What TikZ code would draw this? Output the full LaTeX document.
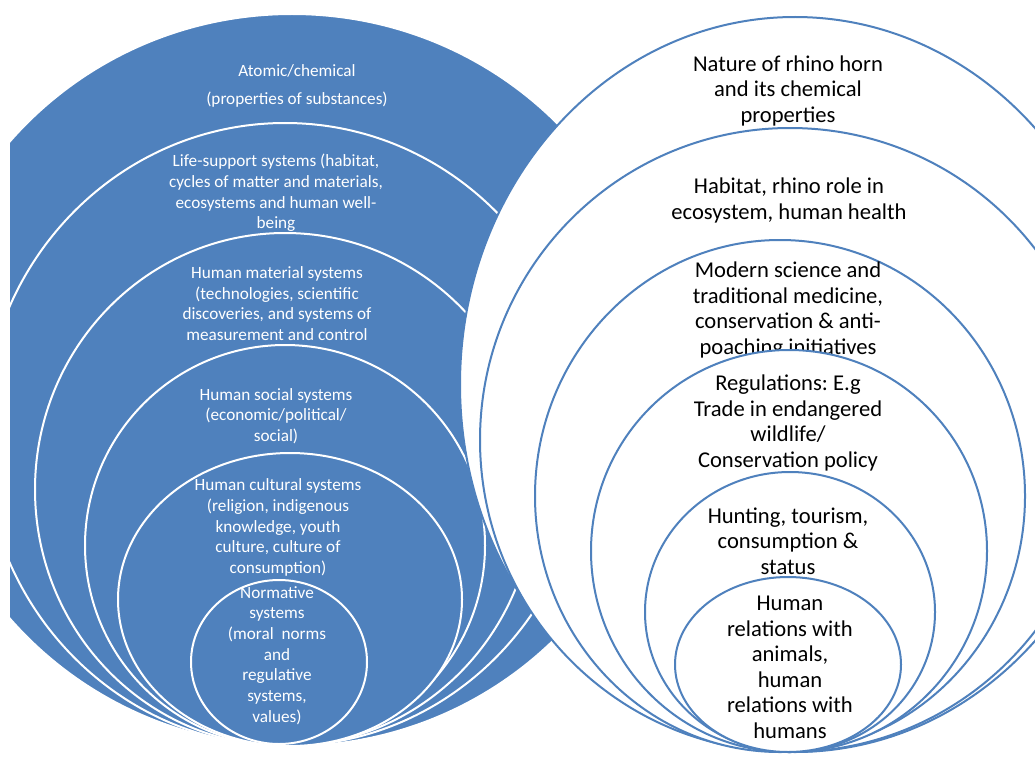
\documentclass[tikz,border=0pt]{standalone}
\usepackage{fontspec}
\setmainfont{Carlito}
\usetikzlibrary{shapes.geometric}
\definecolor{ringblue}{HTML}{4F81BD}
\frenchspacing
\tikzset{
  lring/.style={ellipse,draw=white,line width=2pt,fill=ringblue,inner sep=0pt},
  rring/.style={ellipse,draw=ringblue,line width=2pt,fill=white,inner sep=0pt},
  ltext/.style={text=white,align=center,font=\fontsize{17.2}{20.7}\selectfont},
  rtext/.style={text=black,align=center,font=\fontsize{22.6}{25.5}\selectfont}
}
\begin{document}
\begin{tikzpicture}[x=1pt,y=-1pt]
        \useasboundingbox (0,0) rectangle (1035,757);
        \clip (0,0) rectangle (1035,757);
        %% left rings
        \begin{scope}
        \clip (10,0) rectangle (1035,757);
        \node[lring,minimum width=744pt,minimum height=732pt] (l1) at (292,380) {};
        \node[ltext] (tatom) at (297,86) {Atomic/chemical\\[7pt](properties of substances)};
        \node[lring,minimum width=604pt,minimum height=623pt] (l2) at (285,434.5) {};
        \node[ltext] (tlife) at (276,193) {Life-support systems (habitat,\\cycles of matter and materials,\\ecosystems and human well-\\being};
        \node[lring,minimum width=500pt,minimum height=513pt] (l3) at (285,489.5) {};
        \node[ltext] (tmat) at (277,303.5) {Human material systems\\(technologies, scientific\\discoveries, and systems of\\measurement and control};
        \node[lring,minimum width=400pt,minimum height=401pt] (l4) at (285,545.5) {};
        \node[ltext] (tsoc) at (276,416) {Human social systems\\(economic/political/\\social)};
        \node[lring,minimum width=344pt,minimum height=293pt] (l5) at (290,599.5) {};
        \node[ltext] (tcult) at (278,527.5) {Human cultural systems\\(religion, indigenous\\knowledge, youth\\culture, culture of\\consumption)};
        \node[lring,minimum width=176pt,minimum height=164pt] (l6) at (279,662) {};
        \node[ltext] (tnorm) at (277,655.5) {Normative\\systems\\(moral~~norms\\and\\regulative\\systems,\\values)};
        \end{scope}
        %% right rings
        \node[rring,minimum width=670pt,minimum height=735pt] (r1) at (795,384.5) {};
        \node[rtext] (tnat) at (788,90.5) {Nature of rhino horn\\and its chemical\\properties};
        \node[rring,minimum width=620pt,minimum height=624pt] (r2) at (790,440) {};
        \node[rtext] (thab) at (789,200.5) {Habitat, rhino role in\\ecosystem, human health};
        \node[rring,minimum width=490pt,minimum height=512pt] (r3) at (780,496) {};
        \node[rtext] (tmod) at (788,310) {Modern science and\\traditional medicine,\\conservation \& anti-\\poaching initiatives};
        \node[rring,minimum width=396pt,minimum height=402pt] (r4) at (789,551) {};
        \node[rtext] (treg) at (788,423) {Regulations: E.g\\Trade in endangered\\wildlife/\\Conservation policy};
        \node[rring,minimum width=290pt,minimum height=280pt] (r5) at (790,612) {};
        \node[rtext] (thunt) at (788,541) {Hunting, tourism,\\consumption \&\\status};
        \node[rring,minimum width=226pt,minimum height=175pt] (r6) at (788,664.5) {};
        \node[rtext] (trel) at (790,667.5) {Human\\relations with\\animals,\\human\\relations with\\humans};
\end{tikzpicture}
\end{document}
